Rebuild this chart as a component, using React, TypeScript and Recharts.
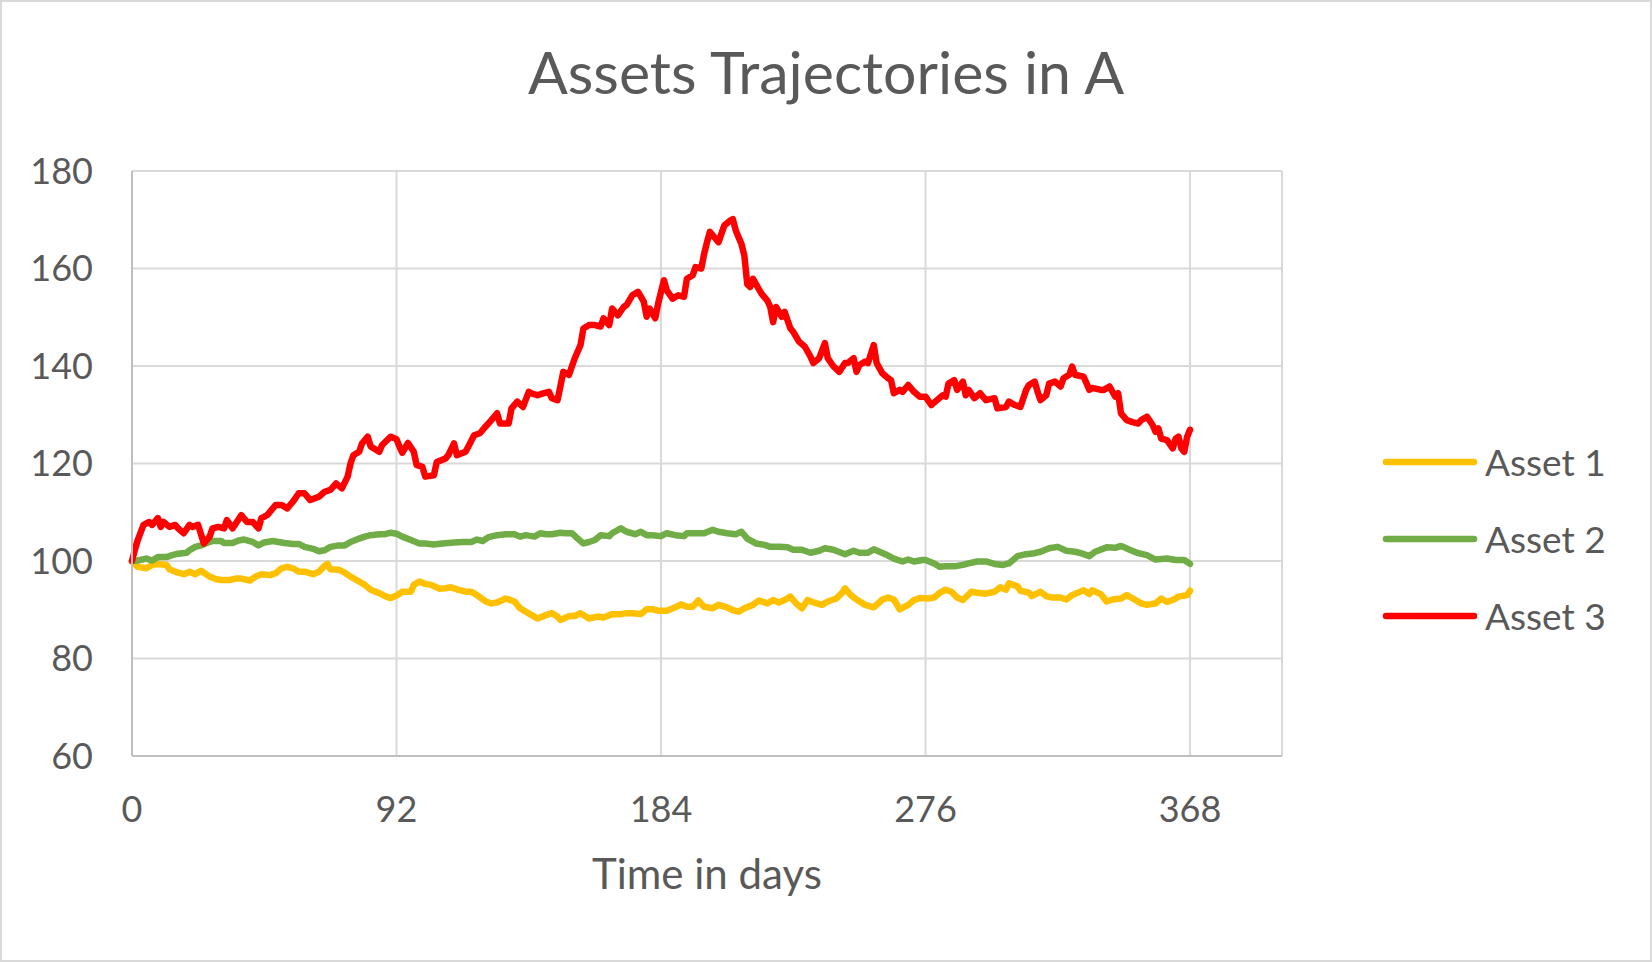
import { CartesianGrid, Legend, Line, LineChart, XAxis, YAxis } from "recharts"

const chartTitle = "Assets Trajectories in A"
const xTitle = "Time in days"
const xTicks = [0, 92, 184, 276, 368]
const yTicks = [60, 80, 100, 120, 140, 160, 180]

// [day, value]
const asset1: [number, number][] = [
  [0, 99.9], [2, 98.8], [5, 98.5], [7, 99.2], [9, 99.4], [12, 99.2], [13, 98.3], [16, 97.6], [18, 97.3], [20, 97.8],
  [22, 97.3], [24, 98], [27, 96.8], [29, 96.3], [31, 96.1], [34, 96.1], [36, 96.4], [38, 96.4], [41, 96], [43, 96.8],
  [45, 97.3], [48, 97.1], [50, 97.5], [52, 98.5], [54, 98.8], [56, 98.5], [58, 97.8], [60, 97.8], [63, 97.3], [65, 97.8],
  [67, 99], [68, 99.4], [69, 98.3], [72, 98.2], [74, 97.6], [76, 96.8], [79, 95.8], [81, 95.1], [83, 94.1], [86, 93.4],
  [88, 92.8], [90, 92.4], [92, 92.9], [94, 93.7], [97, 93.7], [98, 95.1], [100, 95.8], [102, 95.3], [104, 95.1], [107, 94.3],
  [109, 94.4], [111, 94.6], [113, 94.2], [116, 93.7], [118, 93.7], [120, 93], [123, 91.7], [125, 91.3], [127, 91.5], [130, 92.3],
  [133, 91.7], [135, 90.3], [137, 89.6], [139, 88.9], [141, 88.2], [144, 88.9], [146, 89.3], [148, 88.6], [149, 87.9], [152, 88.7],
  [154, 88.7], [156, 89.3], [159, 88.2], [162, 88.6], [164, 88.4], [167, 89.1], [170, 89.1], [172, 89.3], [174, 89.3], [177, 89.1],
  [179, 90.1], [181, 90.1], [183, 89.8], [186, 89.8], [189, 90.5], [191, 91.1], [193, 90.6], [195, 90.6], [197, 91.9], [199, 90.6],
  [202, 90.3], [204, 91], [207, 90.5], [209, 89.9], [211, 89.6], [213, 90.3], [216, 91], [218, 91.9], [221, 91.3], [223, 92],
  [225, 91.5], [227, 92], [229, 92.7], [231, 91.3], [233, 90.3], [235, 92], [237, 91.5], [240, 91], [242, 91.7], [245, 92.3],
  [247, 93.5], [248, 94.4], [250, 93], [252, 92.1], [255, 91], [258, 90.5], [261, 92.1], [263, 92.5], [265, 92.1], [267, 90.1],
  [270, 91], [272, 92], [274, 92.4], [277, 92.3], [279, 92.5], [281, 93.5], [283, 94.1], [285, 93.7], [287, 92.5], [289, 92],
  [292, 93.7], [294, 93.5], [297, 93.3], [300, 93.7], [302, 94.6], [304, 94.1], [305, 95.4], [308, 94.8], [309, 93.9], [312, 93.5],
  [313, 92.8], [316, 93.7], [318, 92.8], [320, 92.5], [323, 92.5], [325, 92.1], [327, 93], [331, 94], [333, 93.2], [334, 94],
  [337, 93.2], [339, 91.7], [341, 92.1], [344, 92.3], [346, 93], [349, 92], [351, 91.3], [353, 91], [356, 91.3], [358, 92.3],
  [360, 91.6], [362, 92], [364, 92.7], [367, 93], [368, 93.9],
]

const asset2: [number, number][] = [
  [0, 100], [2, 100.1], [5, 100.5], [7, 100.1], [9, 100.8], [12, 100.8], [14, 101.2], [16, 101.5], [19, 101.7], [20, 102.2],
  [22, 102.9], [24, 103.2], [26, 103.7], [28, 104.1], [31, 104.1], [32, 103.7], [35, 103.7], [37, 104.2], [39, 104.4], [42, 103.9],
  [44, 103.2], [46, 103.8], [49, 104.1], [51, 103.9], [53, 103.7], [56, 103.5], [58, 103.5], [60, 102.9], [63, 102.5], [65, 102],
  [67, 102.2], [69, 102.9], [72, 103.2], [74, 103.2], [76, 103.9], [79, 104.6], [81, 105], [83, 105.3], [86, 105.5], [88, 105.5],
  [90, 105.8], [92, 105.6], [94, 105], [97, 104.3], [100, 103.6], [102, 103.6], [105, 103.4], [108, 103.6], [112, 103.8], [115, 103.9],
  [118, 103.9], [120, 104.4], [122, 104.1], [124, 104.9], [127, 105.3], [130, 105.5], [133, 105.5], [135, 105], [137, 105.3], [140, 105],
  [142, 105.7], [144, 105.5], [146, 105.5], [149, 105.8], [151, 105.7], [153, 105.7], [155, 104.6], [157, 103.6], [159, 103.9], [161, 104.3],
  [163, 105.3], [166, 105.1], [167, 105.7], [170, 106.7], [172, 106], [175, 105.5], [177, 106], [179, 105.3], [181, 105.3], [184, 105.1],
  [186, 105.7], [189, 105.3], [192, 105.1], [193, 105.7], [196, 105.7], [199, 105.7], [202, 106.4], [204, 106], [207, 105.7], [210, 105.5],
  [212, 106], [214, 104.6], [217, 103.6], [220, 103.3], [222, 102.9], [225, 102.9], [228, 102.8], [230, 102.3], [233, 102.3], [236, 101.7],
  [239, 102.1], [241, 102.6], [244, 102.3], [248, 101.4], [251, 102.1], [253, 101.7], [256, 101.7], [258, 102.4], [262, 101.4], [265, 100.5],
  [268, 99.9], [270, 100.3], [272, 99.9], [275, 100.2], [276, 100.2], [279, 99.5], [281, 98.8], [283, 98.9], [286, 98.9], [289, 99.2],
  [291, 99.5], [294, 99.9], [297, 99.9], [300, 99.4], [303, 99.2], [305, 99.5], [308, 101], [311, 101.4], [314, 101.6], [316, 101.9],
  [319, 102.6], [322, 102.9], [325, 102.1], [328, 101.9], [330, 101.6], [333, 101], [335, 101.9], [339, 102.8], [342, 102.7], [344, 103.1],
  [347, 102.3], [350, 101.6], [353, 101.2], [356, 100.3], [360, 100.5], [363, 100.2], [366, 100.2], [368, 99.4],
]

const asset3: [number, number][] = [
  [0, 100], [1, 102.3], [2, 104.3], [4, 107.4], [6, 108], [7, 107.4], [9, 108.8], [10, 107], [11, 108], [13, 107],
  [15, 107.4], [16, 106.7], [18, 105.7], [20, 107.4], [21, 107], [23, 107.4], [25, 103.6], [27, 105], [28, 106.7], [30, 107],
  [32, 106.7], [33, 108.4], [35, 106.7], [38, 109.4], [40, 108], [42, 108], [44, 106.7], [45, 108.8], [47, 109.4], [50, 111.5],
  [52, 111.5], [54, 110.8], [56, 112.2], [58, 113.9], [60, 113.9], [62, 112.5], [65, 113.2], [67, 114.2], [69, 114.6], [71, 115.9],
  [73, 114.9], [75, 117.3], [76, 120], [77, 121.7], [79, 122.4], [80, 124.1], [82, 125.5], [83, 123.5], [86, 122.4], [87, 123.8],
  [90, 125.5], [92, 125], [93, 123.5], [94, 122.2], [96, 124.2], [98, 122.4], [99, 119.7], [101, 119.3], [102, 117.3], [105, 117.6],
  [106, 120.3], [109, 121], [110, 121.7], [112, 124.1], [113, 121.7], [116, 122.4], [117, 123.5], [119, 125.8], [121, 126.2], [123, 127.6],
  [125, 128.9], [127, 130.3], [128, 128.2], [131, 128.2], [132, 131.3], [134, 132.7], [136, 131.6], [138, 134.7], [139, 134.4], [141, 134],
  [143, 134.4], [145, 134.7], [146, 133.4], [148, 133], [149, 135.8], [150, 138.8], [152, 138.2], [154, 141.6], [156, 144.3], [157, 147.7],
  [159, 148.4], [161, 148.4], [163, 148.1], [164, 149.8], [166, 148.4], [167, 151.8], [169, 150.4], [171, 152.1], [172, 152.5], [174, 154.5],
  [176, 155.2], [178, 153.2], [179, 150.1], [180, 151.8], [182, 149.8], [183, 152.8], [185, 157.6], [186, 155.5], [188, 153.8], [190, 154.5],
  [192, 154.2], [193, 157.9], [195, 158.6], [196, 160.3], [198, 160], [199, 163], [200, 165.4], [201, 167.5], [203, 166.1], [204, 165.4],
  [206, 168.8], [208, 169.8], [209, 170.1], [210, 167.8], [212, 165], [213, 162.6], [214, 156.8], [215, 156.2], [216, 157.9], [218, 155.8],
  [219, 154.8], [221, 153.4], [222, 152.1], [223, 149], [224, 152.1], [226, 150.1], [227, 151.1], [229, 147.7], [230, 147], [232, 145],
  [234, 144], [236, 141.9], [237, 140.6], [239, 141.6], [241, 144.7], [242, 141.6], [244, 139.9], [246, 138.8], [248, 140.6], [249, 140.6],
  [251, 141.6], [252, 138.8], [253, 140.2], [255, 140.9], [256, 140.6], [258, 144.3], [259, 140.6], [261, 138.5], [263, 137.5], [264, 137.1],
  [265, 134.4], [267, 135.1], [268, 134.7], [270, 136.1], [272, 134.7], [274, 133.7], [276, 133.7], [278, 132], [280, 133], [282, 134],
  [283, 133.7], [284, 136.4], [286, 137.1], [287, 135.1], [289, 136.8], [290, 134], [291, 135.1], [293, 133.4], [295, 134.4], [297, 133],
  [300, 133.4], [301, 131.3], [304, 131.6], [305, 132.7], [307, 132], [309, 131.6], [311, 135.1], [312, 136.1], [314, 136.8], [315, 134.7],
  [316, 133], [318, 134], [319, 136.4], [321, 136.8], [323, 135.8], [324, 137.5], [326, 138.2], [327, 139.9], [328, 138.2], [331, 137.8],
  [333, 135.1], [334, 135.5], [337, 135.1], [338, 135.1], [340, 135.8], [342, 133.7], [343, 134.4], [344, 130.3], [346, 128.9], [348, 128.5],
  [350, 128.2], [351, 128.9], [353, 129.6], [355, 127.9], [356, 126.5], [357, 127.2], [358, 125.1], [360, 124.8], [362, 123.1], [363, 125.1],
  [364, 125.5], [365, 123.1], [366, 122.4], [367, 125.5], [368, 126.9],
]

const series = [
  { name: "Asset 1", color: "#FFC000", points: asset1 },
  { name: "Asset 2", color: "#70AD47", points: asset2 },
  { name: "Asset 3", color: "#FF0000", points: asset3 },
]

const textColor = "#595959"

function LegendBox(props: any) {
  const items = props.payload || []
  return (
    <div>
      {items.map((item: any) => (
        <div key={item.value} style={{ display: "flex", alignItems: "center", height: 77 }}>
          <svg width={100} height={12}>
            <line x1={6} y1={6} x2={94} y2={6} stroke={item.color} strokeWidth={6.5} strokeLinecap="round" />
          </svg>
          <span style={{ marginLeft: 5, fontSize: 37, color: textColor, lineHeight: "42px" }}>{item.value}</span>
        </div>
      ))}
    </div>
  )
}

export default function App() {
  return (
    <div style={{ position: "absolute", left: 0, top: 0, width: 1652, height: 962, background: "#fff", fontFamily: "Lato" }}>
      <div style={{ position: "absolute", left: 0, top: 36, width: 1652, height: 72, lineHeight: "72px", textAlign: "center", fontSize: 59, color: textColor }}>
        {chartTitle}
      </div>
      <LineChart width={1652} height={962} margin={{ top: 171, right: 370, bottom: 50, left: 0 }}>
        <CartesianGrid stroke="#d9d9d9" strokeWidth={2} />
        <XAxis
          type="number"
          dataKey="day"
          domain={[0, 400]}
          ticks={xTicks}
          height={156}
          axisLine={{ stroke: "#bfbfbf", strokeWidth: 2 }}
          tickLine={false}
          tickSize={0}
          tickMargin={40}
          tick={{ fill: textColor, fontSize: 36 }}
          label={{ value: xTitle, position: "insideBottom", offset: 23, fill: textColor, fontSize: 42 }}
        />
        <YAxis
          type="number"
          domain={[60, 180]}
          ticks={yTicks}
          width={132}
          axisLine={{ stroke: "#bfbfbf", strokeWidth: 2 }}
          tickLine={false}
          tickSize={0}
          tickMargin={39}
          tick={{ fill: textColor, fontSize: 36 }}
        />
        {series.map((s) => (
          <Line
            key={s.name}
            name={s.name}
            data={s.points.map(([day, value]) => ({ day, value }))}
            dataKey="value"
            type="linear"
            stroke={s.color}
            strokeWidth={6.5}
            strokeLinecap="round"
            strokeLinejoin="round"
            dot={false}
            activeDot={false}
            isAnimationActive={false}
          />
        ))}
        <Legend
          layout="vertical"
          align="center"
          verticalAlign="middle"
          wrapperStyle={{ left: 1380, top: 423, width: 260 }}
          content={<LegendBox />}
        />
      </LineChart>
      <div style={{ position: "absolute", left: 0, top: 0, width: 1652, height: 962, boxSizing: "border-box", border: "2px solid #d9d9d9", pointerEvents: "none" }} />
    </div>
  )
}
